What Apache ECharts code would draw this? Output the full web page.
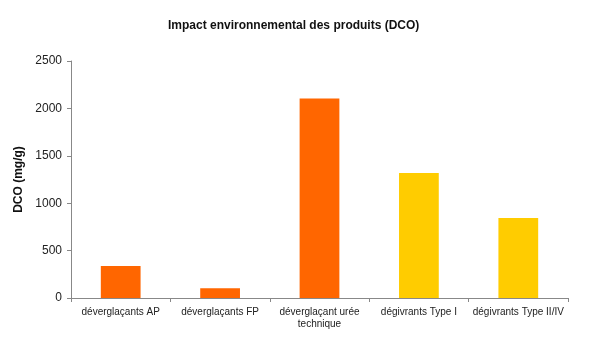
<!DOCTYPE html>
<html>
<head>
<meta charset="utf-8">
<script src="https://cdn.jsdelivr.net/npm/echarts@6/dist/echarts.min.js"></script>
<style>html,body{margin:0;padding:0;background:#fff;}#c{width:600px;height:341px;}</style>
</head>
<body>
<div id="c"></div>
<script>
const categories = ['déverglaçants AP', 'déverglaçants FP', 'déverglaçant urée\ntechnique', 'dégivrants Type I', 'dégivrants Type II/IV'];
const values = [337, 102, 2105, 1318, 844];
const barColors = ['#FF6600', '#FF6600', '#FF6600', '#FFCC00', '#FFCC00'];
const yTicks = [0, 500, 1000, 1500, 2000, 2500];

const chart = echarts.init(document.getElementById('c'), null, {renderer: 'canvas'});
chart.setOption({
  animation: false,
  backgroundColor: '#fff',
  title: {
    text: 'Impact environnemental des produits (DCO)',
    left: 163, top: 15,
    textStyle: {fontFamily: 'Liberation Sans, Arial, sans-serif', fontSize: 12, fontWeight: 'bold', color: '#111'}
  },
  grid: {left: 71, right: 32, top: 61, bottom: 43, containLabel: false},
  xAxis: {
    type: 'category',
    data: categories,
    axisLine: {lineStyle: {color: '#888', width: 1}},
    axisTick: {show: true, alignWithLabel: false, length: 4, lineStyle: {color: '#888'}},
    axisLabel: {fontFamily: 'Liberation Sans, Arial, sans-serif', fontSize: 10, color: '#222', margin: 8, interval: 0, lineHeight: 12}
  },
  yAxis: {
    type: 'value',
    min: yTicks[0], max: yTicks[yTicks.length - 1], interval: 500,
    name: 'DCO (mg/g)',
    nameLocation: 'middle', nameGap: 34, nameRotate: 90,
    nameTextStyle: {fontFamily: 'Liberation Sans, Arial, sans-serif', fontSize: 12, fontWeight: 'bold', color: '#111'},
    axisLine: {show: true, lineStyle: {color: '#888', width: 1}},
    axisTick: {show: true, length: 4, lineStyle: {color: '#888'}},
    splitLine: {show: false},
    axisLabel: {fontFamily: 'Liberation Sans, Arial, sans-serif', fontSize: 12, color: '#222', margin: 9, formatter: v => String(v)}
  },
  series: [{
    type: 'bar',
    data: values.map((v, i) => ({value: v, itemStyle: {color: barColors[i]}})),
    barWidth: '40%'
  }]
});
</script>
</body>
</html>
